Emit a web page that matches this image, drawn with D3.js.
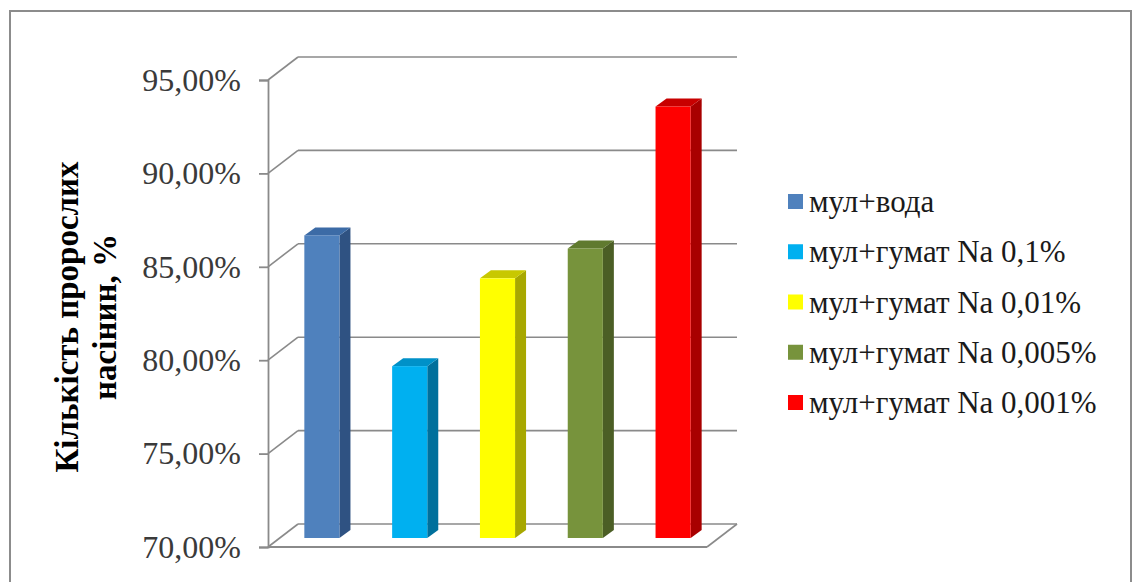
<!DOCTYPE html>
<html lang="uk"><head><meta charset="utf-8">
<script src="https://cdn.jsdelivr.net/npm/d3@7"></script>
<style>html,body{margin:0;padding:0;background:#fff;}svg{display:block;}</style>
</head><body>
<svg id="c" width="1133" height="582"></svg>
<script>
const categories = ["мул+вода","мул+гумат Na 0,1%","мул+гумат Na 0,01%","мул+гумат Na 0,005%","мул+гумат Na 0,001%"];
const values = [0.862, 0.792, 0.839, 0.855, 0.931];
const tickValues = [0.70, 0.75, 0.80, 0.85, 0.90, 0.95];
const tickLabels = ["70,00%","75,00%","80,00%","85,00%","90,00%","95,00%"];
const frontColors = ["#4F81BD","#00B0F0","#FFFF00","#77933C","#FF0000"];
const sideColors  = ["#2F5282","#00709C","#A8A800","#4B5E25","#A80000"];
const topColors   = ["#3C6BA6","#0091C8","#C8C800","#607A2F","#C80000"];
const yTitle = ["Кількість пророслих","насінин, %"];

const svg = d3.select("#c");
const gridColor = "#8a8a8a";
const serif = '"Liberation Serif", "Times New Roman", serif';

svg.append("rect").attr("x",10).attr("y",11).attr("width",1121).attr("height",620)
  .attr("fill","none").attr("stroke","#8c8c8c").attr("stroke-width",2);

const y = d3.scaleLinear().domain([0.70,0.95]).range([547,80]);
const x = d3.scaleBand().domain(categories).range([268,707]).paddingInner(0.6).paddingOuter(0.3);
const back = {dx:30, dy:-23};
const plane = {dx:10, dy:-9};
const depth = {dx:11, dy:-8};

const g = svg.append("g");
g.selectAll("line.grid").data(tickValues).join("line").attr("class","grid")
  .attr("x1",268+back.dx).attr("x2",707+back.dx)
  .attr("y1",d=>y(d)+back.dy).attr("y2",d=>y(d)+back.dy)
  .attr("stroke",gridColor).attr("stroke-width",1.6);
g.selectAll("line.diag").data(tickValues).join("line").attr("class","diag")
  .attr("x1",268).attr("x2",268+back.dx)
  .attr("y1",d=>y(d)).attr("y2",d=>y(d)+back.dy)
  .attr("stroke",gridColor).attr("stroke-width",1.6);
g.append("line").attr("x1",268).attr("x2",707).attr("y1",y(0.70)).attr("y2",y(0.70))
  .attr("stroke",gridColor).attr("stroke-width",1.8);
g.append("line").attr("x1",707).attr("x2",707+back.dx).attr("y1",y(0.70)).attr("y2",y(0.70)+back.dy)
  .attr("stroke",gridColor).attr("stroke-width",1.6);

const axis = d3.axisLeft(y).tickValues(tickValues).tickSize(9).tickFormat((d,i)=>tickLabels[i]).tickPadding(18);
const ax = svg.append("g").attr("transform","translate(268,0)").call(axis);
ax.attr("font-family",null).attr("font-size",null);
ax.select(".domain").attr("stroke",gridColor).attr("stroke-width",1.8);
ax.selectAll(".tick line").attr("stroke",gridColor).attr("stroke-width",1.8);
ax.selectAll(".tick text").style("font-family",serif).style("font-size","32px").attr("fill","#3a3a3a");

const bars = svg.append("g");
categories.forEach((c,i)=>{
  const x0 = x(c)+plane.dx, w = x.bandwidth();
  const yb = y(0.70)+plane.dy, yt = y(values[i])+plane.dy;
  bars.append("polygon").attr("points",[[x0+w,yt],[x0+w+depth.dx,yt+depth.dy],[x0+w+depth.dx,yb+depth.dy],[x0+w,yb]].join(" "))
    .attr("fill",sideColors[i]);
  bars.append("polygon").attr("points",[[x0,yt],[x0+depth.dx,yt+depth.dy],[x0+w+depth.dx,yt+depth.dy],[x0+w,yt]].join(" "))
    .attr("fill",topColors[i]);
  bars.append("rect").attr("x",x0).attr("y",yt).attr("width",w).attr("height",yb-yt).attr("fill",frontColors[i]);
});

const t = svg.append("text").attr("transform","translate(78,317) rotate(-90)")
  .style("font-family",serif).style("font-weight","bold").style("font-size","33px").attr("fill","#000")
  .attr("text-anchor","middle");
t.append("tspan").attr("x",0).attr("dy",0).text(yTitle[0]);
t.append("tspan").attr("x",0).attr("dy",38).text(yTitle[1]);

const leg = svg.append("g");
const legY = d3.scalePoint().domain(categories).range([202,403]);
categories.forEach((c,i)=>{
  leg.append("rect").attr("x",788).attr("y",legY(c)-8).attr("width",15).attr("height",15).attr("fill",frontColors[i]);
  leg.append("text").attr("x",809).attr("y",legY(c)).attr("dy","0.33em")
    .style("font-family",serif).style("font-size","31px").attr("fill","#1a1a1a").text(c);
});
</script>
</body></html>
